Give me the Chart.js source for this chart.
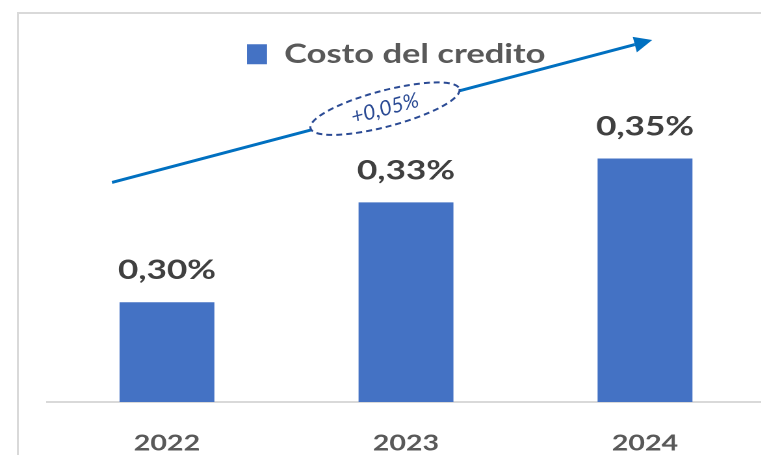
<!DOCTYPE html>
<html><head><meta charset="utf-8">
<script src="https://cdn.jsdelivr.net/npm/chart.js@4.4.1/dist/chart.umd.min.js"></script>
<style>
html,body{margin:0;padding:0;width:761px;height:455px;overflow:hidden;background:#fff;}
#frame{position:absolute;left:17px;top:12px;width:820px;height:520px;border:2px solid #d9d9d9;box-sizing:border-box;}
#wrap{position:absolute;left:0;top:0;width:600px;height:455px;transform:scaleX(1.3);transform-origin:0 0;}
</style></head><body>
<div id="frame"></div>
<div id="wrap"><canvas id="c" width="600" height="455"></canvas></div>
<script>
// ---- data ----
const categories = ['2022', '2023', '2024'];
const seriesName = 'Costo del credito';
const values = [0.298, 0.331, 0.3455];   // % (labels round to 0,30 / 0,33 / 0,35)
const trendLabel = '+0,05%';
const yMin = 0.265, yMax = 0.3723;

// ---- style / layout ----
const S = 1.3;               // horizontal stretch of the whole picture
const LEGEND_SHIFT = 7.5;
const arrowFrom = [-0.23, 0.3376];
const arrowTo = [2.03, 0.3847];
const ellipseAt = [0.912, 0.362];

function fmt(v){ return v.toFixed(2).replace('.', ',') + '%'; }

Chart.defaults.font.family = 'Lato';

const annot = {
  id: 'annot',
  afterLayout(chart){
    const lg = chart.legend;
    if (lg){ lg.left -= LEGEND_SHIFT; lg.right -= LEGEND_SHIFT; }
  },
  afterDatasetsDraw(chart){
    const ctx = chart.ctx;
    const meta = chart.getDatasetMeta(0);
    ctx.save();
    ctx.font = 'bold 27px Lato';
    ctx.fillStyle = '#404040';
    ctx.textAlign = 'center';
    ctx.textBaseline = 'alphabetic';
    meta.data.forEach((bar, i) => {
      ctx.fillText(fmt(chart.data.datasets[0].data[i]), bar.x, bar.y - 23);
    });
    ctx.restore();
  },
  afterDraw(chart){
    const ctx = chart.ctx, xs = chart.scales.x, ys = chart.scales.y;
    const P = (a) => [xs.getPixelForValue(a[0]) * S, ys.getPixelForValue(a[1])];
    const p0 = P(arrowFrom), p1 = P(arrowTo), pc = P(ellipseAt);
    const ang = Math.atan2(p1[1] - p0[1], p1[0] - p0[0]);
    ctx.save();
    ctx.scale(1 / S, 1);
    // arrow shaft
    const headL = 18, headW = 8;
    const bx = p1[0] - headL * Math.cos(ang), by = p1[1] - headL * Math.sin(ang);
    ctx.strokeStyle = '#0070c0';
    ctx.fillStyle = '#0070c0';
    ctx.lineWidth = 3;
    ctx.beginPath(); ctx.moveTo(p0[0], p0[1]); ctx.lineTo(bx, by); ctx.stroke();
    ctx.beginPath();
    ctx.moveTo(p1[0], p1[1]);
    ctx.lineTo(bx + headW * Math.sin(ang), by - headW * Math.cos(ang));
    ctx.lineTo(bx - headW * Math.sin(ang), by + headW * Math.cos(ang));
    ctx.closePath(); ctx.fill();
    // dashed ellipse
    ctx.beginPath();
    ctx.ellipse(pc[0], pc[1], 77, 18, ang, 0, Math.PI * 2);
    ctx.fillStyle = '#ffffff'; ctx.fill();
    ctx.setLineDash([6, 4]);
    ctx.lineWidth = 2;
    ctx.strokeStyle = '#2a4a94';
    ctx.stroke();
    ctx.setLineDash([]);
    // label
    ctx.translate(pc[0], pc[1]);
    ctx.rotate(ang);
    ctx.font = 'italic 21px Lato';
    ctx.fillStyle = '#2a4a94';
    ctx.textAlign = 'center';
    ctx.textBaseline = 'middle';
    ctx.fillText(trendLabel, 0, 0);
    ctx.restore();
  }
};

new Chart(document.getElementById('c'), {
  type: 'bar',
  data: {
    labels: categories,
    datasets: [{
      label: seriesName,
      data: values,
      backgroundColor: '#4472c4',
      borderWidth: 0,
      barPercentage: 0.397,
      categoryPercentage: 1.0
    }]
  },
  options: {
    responsive: false,
    animation: false,
    devicePixelRatio: 2,
    layout: { padding: { left: 36.5, right: 11.9, top: 33, bottom: -29.4 } },
    plugins: {
      legend: {
        display: true,
        position: 'top',
        labels: {
          boxWidth: 15.4, boxHeight: 20,
          color: '#595959',
          font: { size: 26.5, weight: 'bold' },
          padding: 8
        }
      },
      tooltip: { enabled: false }
    },
    scales: {
      x: {
        grid: { display: false, drawTicks: false },
        border: { display: true, color: '#d9d9d9', width: 2 },
        ticks: { color: '#595959', font: { size: 22, weight: 'bold' }, padding: 28 }
      },
      y: { display: false, min: yMin, max: yMax }
    }
  },
  plugins: [annot]
});
</script>
</body></html>
